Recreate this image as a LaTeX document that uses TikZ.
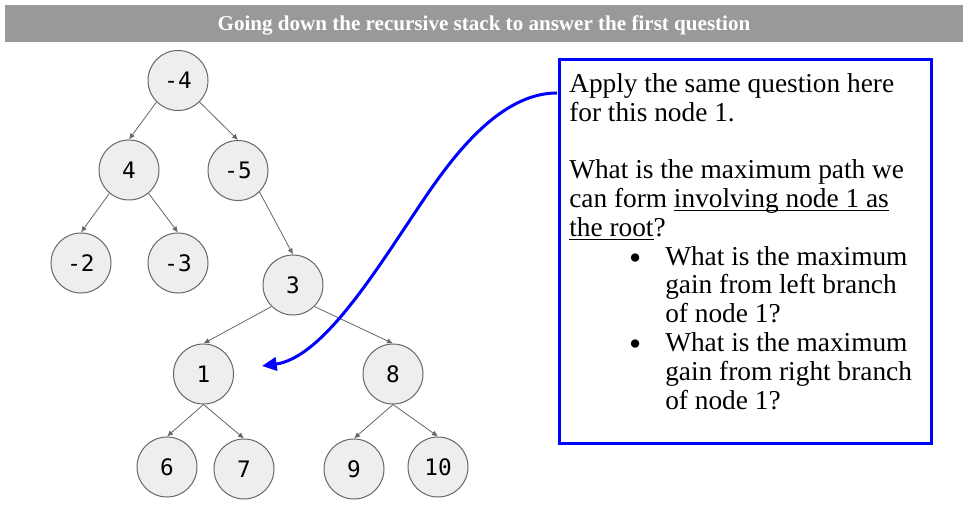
\documentclass[tikz,border=0pt]{standalone}
\usepackage{fontspec}
\setmainfont{Liberation Serif}
\setmonofont{DejaVu Sans Mono}
\usepackage{xcolor}
\usetikzlibrary{arrows.meta,positioning}
\definecolor{barGray}{HTML}{999999}
\definecolor{nodeFill}{HTML}{EEEEEE}
\definecolor{edgeGray}{HTML}{666666}
\newcommand{\uln}[1]{\setbox0\hbox{#1}\rlap{\rule[-3pt]{\wd0}{1pt}}\box0}
\newcommand{\bul}{\llap{\raisebox{-3pt}{\fontsize{26}{21.6}\selectfont\textbullet}\hspace{18pt}}}

\begin{document}
\begin{tikzpicture}[
    x=0.75pt, y=-0.75pt,
    tnode/.style={circle, draw=edgeGray, fill=nodeFill, line width=0.75pt, minimum size=45pt, inner sep=0pt, font=\fontsize{17}{17}\selectfont\ttfamily},
    edge/.style={-{Latex[length=4.5pt,width=4pt]}, draw=edgeGray, line width=0.6pt},
    titlebar/.style={rectangle, fill=barGray, minimum width=718.5pt, minimum height=27.75pt, inner sep=0pt, text height=10.4pt, text depth=0pt, text=white, font=\fontsize{15.8}{15.8}\selectfont\bfseries},
    qbox/.style={rectangle, draw=blue, line width=2.25pt, minimum width=279pt, minimum height=287.25pt, inner sep=0pt},
    qtext/.style={align=left, inner sep=0pt, font=\fontsize{20.5}{21.6}\selectfont},
    pointer/.style={-{Triangle[length=11pt,width=10pt]}, draw=blue, line width=2.25pt}
]
    \useasboundingbox (0,0) rectangle (968,506);
    \node[titlebar] (title) at (484,23.5) {Going down the recursive stack to answer the first question};

    % the tree
    \node[tnode] (m4) at (178,80.5) {-4};
    \node[tnode] (p4) at (129,170) {4};
    \node[tnode] (m5) at (238,170.5) {-5};
    \node[tnode] (m2) at (81,263) {-2};
    \node[tnode] (m3) at (178,263) {-3};
    \node[tnode] (p3) at (293,285) {3};
    \node[tnode] (p1) at (203.5,374) {1};
    \node[tnode] (p8) at (393,374) {8};
    \node[tnode] (p6) at (167,467) {6};
    \node[tnode] (p7) at (244,469) {7};
    \node[tnode] (p9) at (354,469) {9};
    \node[tnode] (p10) at (438,467) {10};

    \draw[edge] (m4.225) -- (p4.north);
    \draw[edge] (m4.-45) -- (m5.north);
    \draw[edge] (p4.-130) -- (m2.north);
    \draw[edge] (p4.-50) -- (m3.north);
    \draw[edge] (m5.-45) -- (p3.north);
    \draw[edge] (p3.-135) -- (p1.north);
    \draw[edge] (p3.-45) -- (p8.north);
    \draw[edge] (p1.south) -- (p6.north);
    \draw[edge] (p1.south) -- (p7.north);
    \draw[edge] (p8.south) -- (p9.north);
    \draw[edge] (p8.south) -- (p10.north);

    % the question box
    \node[qbox] (box) at (745,251.5) {};
    \node[qtext, anchor=base west] (question) at (569,409) {Apply the same question here\\
for this node 1.\\
\mbox{}\\
What is the maximum path we\\
can form \uln{involving node 1 as}\\
\uln{the root}?\\
\hspace*{72pt}\bul What is the maximum\\
\hspace*{72pt}gain from left branch\\
\hspace*{72pt}of node 1?\\
\hspace*{72pt}\bul What is the maximum\\
\hspace*{72pt}gain from right branch\\
\hspace*{72pt}of node 1?};

    \coordinate (src) at (557,93);
    \coordinate (bend) at (410,220);
    \coordinate (dst) at (262,366);
    \draw[pointer] (src) .. controls (490,93) and (437,180) .. (bend)
        .. controls (370,280) and (320,358) .. (dst);
\end{tikzpicture}
\end{document}
